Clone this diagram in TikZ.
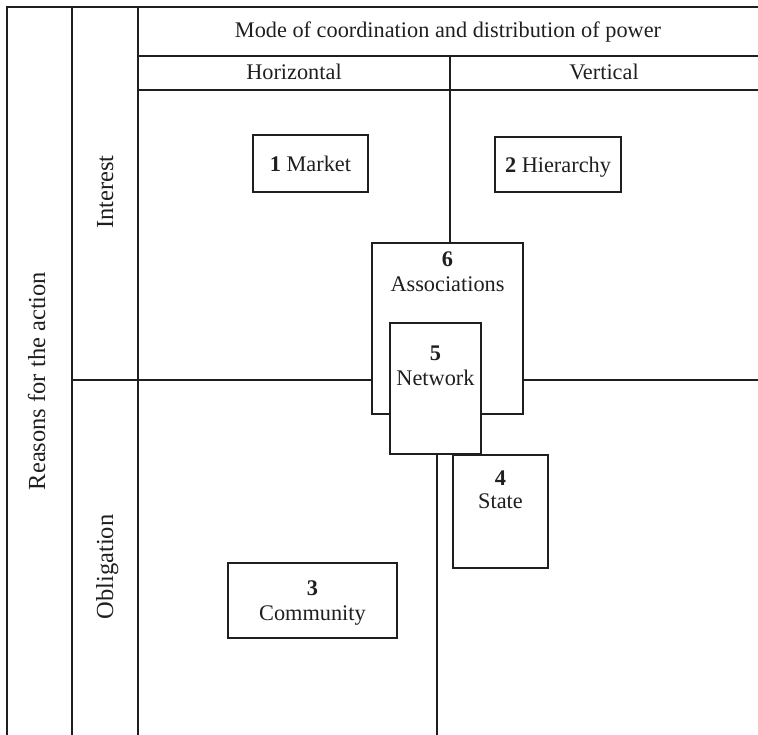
\documentclass[tikz,border=0pt]{standalone}
\usepackage{fontspec}
\setmainfont{Liberation Serif}
\begin{document}
\begin{tikzpicture}[x=1bp,y=-1bp,
  font=\fontsize{22.3bp}{25bp}\selectfont,
  gridline/.style={line width=2.2bp, draw=black!88},
  boxstyle/.style={draw=black!88, line width=1.3bp, fill=white, inner sep=0pt, text=black!88},
  txt/.style={inner sep=0pt, anchor=base, text=black!88},
  rtxt/.style={inner sep=0pt, rotate=90, anchor=center, text=black!88, text height=16bp, text depth=0bp,
    font=\fontsize{24.5bp}{27bp}\selectfont}]
\useasboundingbox (0,0) rectangle (758,735);
% frame lines
\coordinate (tr) at (758,7);
\coordinate (tl) at (7,7);
\coordinate (bl) at (7,735);
\draw[gridline] (tr) -- (tl) -- (bl);
\coordinate (c2t) at (72,7);
\coordinate (c2b) at (72,735);
\draw[gridline] (c2t) -- (c2b);
\coordinate (c3t) at (138,7);
\coordinate (c3b) at (138,735);
\draw[gridline] (c3t) -- (c3b);
\coordinate (r1l) at (138,56);
\coordinate (r1r) at (758,56);
\draw[gridline] (r1l) -- (r1r);
\coordinate (r2l) at (138,90);
\coordinate (r2r) at (758,90);
\draw[gridline] (r2l) -- (r2r);
% header texts
\node[txt] (mode) at (448,38) {Mode of coordination and distribution of power};
\node[txt] (horiz) at (294,80) {Horizontal};
\node[txt] (vert) at (604,80) {Vertical};
% side texts
\node[rtxt] (reasons) at (37,381) {Reasons for the action};
\node[rtxt] (interest) at (105,192) {Interest};
\node[rtxt] (oblig) at (105,567) {Obligation};
% boxes
\node[boxstyle, minimum width=115bp, minimum height=57bp, text height=15bp, text depth=0bp] (market) at (310.5,163.5) {\textbf{1} Market};
\node[boxstyle, minimum width=126bp, minimum height=55bp, text height=15bp, text depth=0bp] (hier) at (558,164.5) {\textbf{2} Hierarchy};
\node[boxstyle, minimum width=151bp, minimum height=171bp] (assoc) at (447.5,328.5) {};
\node[txt] (assocnum) at (447.5,266) {\textbf{6}};
\node[txt] (assoclab) at (447.5,291) {Associations};
\node[boxstyle, minimum width=91bp, minimum height=131bp] (net) at (435.5,388.5) {};
\node[txt] (netnum) at (435.5,360) {\textbf{5}};
\node[txt] (netlab) at (435.5,385) {Network};
\node[boxstyle, minimum width=95bp, minimum height=113bp] (state) at (500.5,511.5) {};
\node[txt] (statenum) at (500.5,485) {\textbf{4}};
\node[txt] (statelab) at (500.5,508) {State};
\node[boxstyle, minimum width=169bp, minimum height=75bp] (comm) at (312.5,600.5) {};
\node[txt] (commnum) at (312.5,595) {\textbf{3}};
\node[txt] (commlab) at (312.5,620) {Community};
% inner dividing lines
\coordinate (hv) at (450,56);
\draw[gridline] (hv) -- (hv |- assoc.north);
\coordinate (bv) at (437,735);
\draw[gridline] (net.south -| bv) -- (bv);
\coordinate (ml) at (72,380);
\draw[gridline] (ml) -- (ml -| assoc.west);
\coordinate (mr) at (758,380);
\draw[gridline] (assoc.east |- mr) -- (mr);
\end{tikzpicture}
\end{document}
